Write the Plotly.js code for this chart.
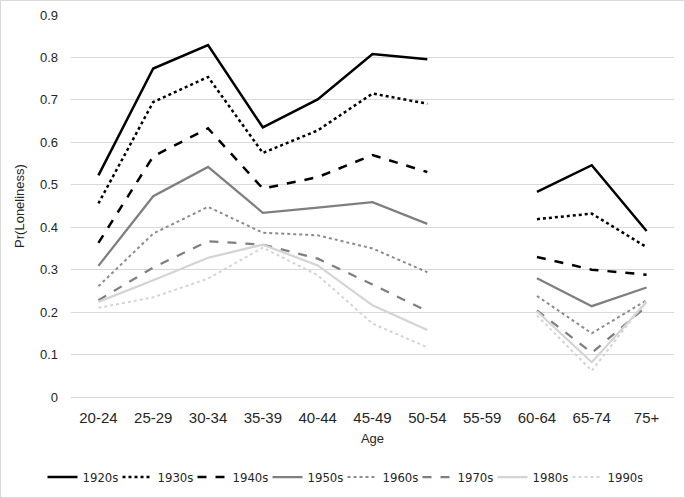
<!DOCTYPE html>
<html>
<head>
<meta charset="utf-8">
<script src="https://cdn.plot.ly/plotly-3.0.1.min.js"></script>
<style>
html,body{margin:0;padding:0;background:#fff;}
#chart{width:683px;height:496px;border:1px solid #d9d9d9;}
</style>
</head>
<body>
<div id="chart"></div>
<script>
var ages = ["20-24","25-29","30-34","35-39","40-44","45-49","50-54","55-59","60-64","65-74","75+"];
var yTicks = [0,0.1,0.2,0.3,0.4,0.5,0.6,0.7,0.8,0.9];
var yTickLabels = ["0","0.1","0.2","0.3","0.4","0.5","0.6","0.7","0.8","0.9"];

var s1920 = [0.522,0.774,0.829,0.635,0.701,0.808,0.796,null,0.483,0.546,0.391];
var s1930 = [0.456,0.695,0.754,0.575,0.628,0.715,0.691,null,0.419,0.432,0.353];
var s1940 = [0.363,0.567,0.633,0.491,0.518,0.570,0.530,null,0.330,0.300,0.288];
var s1950 = [0.309,0.473,0.542,0.434,0.446,0.459,0.408,null,0.280,0.214,0.258];
var s1960 = [0.261,0.385,0.448,0.387,0.381,0.350,0.294,null,0.238,0.150,0.228];
var s1970 = [0.228,0.305,0.367,0.359,0.326,0.265,0.202,null,0.204,0.104,0.214];
var s1980 = [0.224,0.275,0.328,0.359,0.310,0.216,0.158,null,0.202,0.082,0.224];
var s1990 = [0.210,0.235,0.279,0.352,0.287,0.173,0.117,null,0.192,0.062,0.228];

var names = ["1920s","1930s","1940s","1950s","1960s","1970s","1980s","1990s"];
var series = [s1920,s1930,s1940,s1950,s1960,s1970,s1980,s1990];
var styles = [
  {color:"#000000", dash:"solid", width:2.5},
  {color:"#000000", dash:"dot", width:2.5},
  {color:"#000000", dash:"dash", width:2.5},
  {color:"#7f7f7f", dash:"solid", width:2.25},
  {color:"#8c8c8c", dash:"dot", width:2},
  {color:"#7f7f7f", dash:"dash", width:2.25},
  {color:"#d4d4d4", dash:"solid", width:2.25},
  {color:"#d4d4d4", dash:"dot", width:2}
];

var traces = series.map(function(v,i){
  return {
    x: ages, y: v, name: names[i], type: "scatter", mode: "lines",
    connectgaps: false,
    line: {color: styles[i].color, dash: styles[i].dash, width: styles[i].width}
  };
});

var layout = {
  width: 683, height: 496,
  margin: {l: 70, r: 10, t: 14, b: 100},
  paper_bgcolor: "#ffffff", plot_bgcolor: "#ffffff",
  font: {family: "Liberation Sans, Arial, sans-serif", color: "#262626"},
  showlegend: true,
  legend: {
    orientation: "h", xref: "container", yref: "container",
    x: 0.5, xanchor: "center", y: 0.04, yanchor: "middle",
    font: {family: "DejaVu Sans Condensed, Liberation Sans Narrow, Liberation Sans, sans-serif", size: 13, color: "#262626"},
    itemwidth: 30, entrywidth: 30, entrywidthmode: "pixels", traceorder: "normal"
  },
  xaxis: {
    type: "category", categoryorder: "array", categoryarray: ages,
    tickfont: {size: 15, color: "#262626"},
    showgrid: false, zeroline: false, showline: false, ticks: "",
    ticklabelstandoff: 10,
    title: {text: "Age", font: {size: 13, color: "#262626"}, standoff: 8},
    range: [-0.5, 10.5]
  },
  yaxis: {
    range: [0, 0.9], tickvals: yTicks, ticktext: yTickLabels,
    tickfont: {size: 13, color: "#262626"},
    showgrid: true, gridcolor: "#d9d9d9", gridwidth: 1,
    zeroline: true, zerolinecolor: "#d9d9d9", zerolinewidth: 1,
    showline: false, ticks: "", ticklen: 0,
    ticklabelstandoff: 12,
    title: {text: "Pr(Loneliness)", font: {size: 13, color: "#262626"}, standoff: 12}
  }
};

Plotly.newPlot("chart", traces, layout, {displayModeBar: false, staticPlot: true});
</script>
</body>
</html>
